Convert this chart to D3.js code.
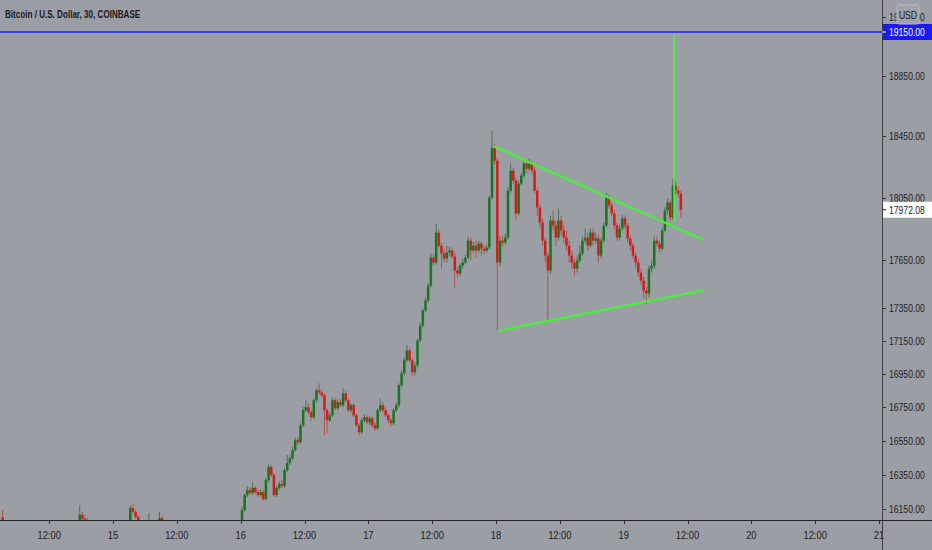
<!DOCTYPE html>
<html>
<head>
<meta charset="utf-8">
<script src="https://cdn.jsdelivr.net/npm/d3@7"></script>
<style>
  html, body { margin: 0; padding: 0; background: #9b9ea5; }
  svg { display: block; }
  text { font-family: "Liberation Sans", Arial, sans-serif; }
</style>
</head>
<body>
<svg id="chart" width="932" height="550"></svg>
<script>
/* DATA: BTC/USD 30 min, Coinbase */
const title = "Bitcoin / U.S. Dollar, 30, COINBASE";

// 30-min slot numbers counted from 2020-11-14 00:00 UTC
const slots = [6, 35, 36, 37, 38, 54, 55, 56, 57, 61, 65, 66, ...d3.range(96, 262)];

const opens = [16103,16064,16116,16093,16070,16064,16156,16133,16104,16058,16070,16098,
  16075,16144,16231,16260,16243,16272,16248,16231,16248,16208,
  16318,16394,16347,16231,16272,16295,16283,16376,16417,16446,
  16493,16552,16540,16640,16730,16748,16718,16688,16790,16849,
  16837,16819,16730,16670,16700,16790,16742,16778,16760,16831,
  16790,16730,16760,16700,16640,16599,16670,16688,16658,16682,
  16640,16622,16730,16760,16730,16700,16670,16652,16730,16760,
  16880,16952,17031,17091,17031,16958,17000,17152,17244,17337,
  17399,17492,17668,17636,17826,17743,17693,17661,17699,17712,
  17674,17586,17567,17617,17636,17668,17775,17712,17743,17712,
  17756,17724,17712,17731,18050,18375,18290,17636,17775,17762,
  17794,18095,18225,18160,17948,18141,18193,18271,18238,18271,
  18225,18095,17986,17890,17775,17680,17586,17903,17871,17794,
  17903,17839,17794,17743,17680,17636,17598,17649,17693,17775,
  17794,17743,17826,17775,17788,17680,17775,17871,18050,17999,
  17948,17871,17794,17852,17916,17871,17788,17743,17680,17636,
  17573,17523,17461,17443,17598,17617,17775,17756,17724,17839,
  17967,18018,17922,18128,18095,18076];

const highs = [16144,16173,16133,16116,16098,16173,16179,16144,16116,16127,16133,16110,
  16162,16243,16283,16277,16306,16283,16260,16266,16260,16330,
  16411,16405,16359,16283,16312,16318,16388,16464,16464,16511,
  16570,16570,16652,16748,16790,16772,16730,16802,16861,16892,
  16855,16831,16742,16718,16808,16802,16796,16796,16861,16849,
  16802,16772,16772,16712,16652,16682,16706,16700,16694,16694,
  16658,16742,16802,16778,16748,16712,16682,16742,16778,16892,
  16970,17049,17122,17103,17043,17019,17164,17263,17349,17418,
  17505,17693,17687,17884,17845,17762,17724,17743,17737,17731,
  17699,17611,17630,17661,17687,17801,17794,17769,17775,17775,
  17769,17743,17750,18063,18486,18401,18309,17801,17807,17820,
  18115,18271,18245,18180,18160,18212,18290,18290,18303,18290,
  18245,18115,18005,17916,17794,17699,17935,17967,17903,17980,
  17935,17871,17839,17775,17712,17661,17674,17743,17801,17852,
  17826,17852,17852,17826,17813,17794,17890,18082,18069,18018,
  17967,17890,17877,17941,17935,17890,17807,17762,17699,17661,
  17598,17548,17486,17617,17649,17801,17801,17775,17858,17986,
  18044,18031,18173,18160,18121,18095];

const lows = [16041,16052,16075,16058,16035,16052,16121,16093,16064,16047,16064,16070,
  16064,16133,16220,16231,16231,16237,16220,16220,16196,16196,
  16306,16335,16220,16220,16260,16272,16272,16365,16405,16434,
  16481,16522,16528,16628,16718,16706,16670,16676,16778,16825,
  16808,16581,16593,16658,16688,16730,16730,16748,16748,16778,
  16718,16718,16688,16628,16581,16587,16658,16646,16640,16628,
  16605,16611,16718,16718,16688,16652,16634,16640,16718,16748,
  16867,16940,17019,17019,16934,16940,16988,17140,17232,17325,
  17387,17480,17617,17624,17731,17598,17636,17636,17674,17661,
  17474,17542,17548,17598,17624,17655,17649,17699,17668,17699,
  17680,17693,17699,17718,18037,18264,17213,17611,17737,17750,
  17782,18082,18141,17903,17935,18128,18180,18212,18225,18206,
  18076,17935,17852,17743,17636,17275,17567,17839,17743,17775,
  17807,17762,17712,17636,17598,17555,17573,17636,17680,17756,
  17712,17731,17743,17756,17636,17661,17762,17858,17980,17929,
  17852,17775,17775,17839,17852,17762,17712,17661,17598,17548,
  17498,17412,17374,17418,17573,17598,17737,17699,17712,17826,
  17941,17903,17903,18069,18050,17922];

const closes = [16058,16116,16093,16070,16047,16156,16133,16104,16075,16081,16098,16081,
  16144,16231,16260,16243,16272,16248,16231,16248,16208,16318,
  16394,16347,16231,16272,16295,16283,16376,16417,16446,16493,
  16552,16540,16640,16730,16748,16718,16688,16790,16849,16837,
  16819,16730,16670,16700,16790,16742,16778,16760,16831,16790,
  16730,16760,16700,16640,16599,16670,16688,16658,16682,16640,
  16622,16730,16760,16730,16700,16670,16652,16730,16760,16880,
  16952,17031,17091,17031,16958,17000,17152,17244,17337,17399,
  17492,17668,17636,17826,17743,17693,17661,17699,17712,17674,
  17586,17567,17617,17636,17668,17775,17712,17743,17712,17756,
  17724,17712,17731,18050,18375,18290,17636,17775,17762,17794,
  18095,18225,18160,17948,18141,18193,18271,18238,18271,18225,
  18095,17986,17890,17775,17680,17586,17903,17871,17794,17903,
  17839,17794,17743,17680,17636,17598,17649,17693,17775,17794,
  17743,17826,17775,17788,17680,17775,17871,18050,17999,17948,
  17871,17794,17852,17916,17871,17788,17743,17680,17636,17573,
  17523,17461,17443,17598,17617,17775,17756,17724,17839,17967,
  18018,17922,18128,18095,18076,17972.08];

// drawings on the chart (time, price)
const upperTrend = [["2020-11-17T23:30Z", 18385], ["2020-11-19T15:00Z", 17780]];
const lowerTrend = [["2020-11-18T00:30Z", 17213], ["2020-11-19T15:00Z", 17461]];
const targetLine = [["2020-11-19T09:30Z", 17890], ["2020-11-19T09:30Z", 19130]];
const priceLine = 19150;
const lastPrice = 17972.08;

const yTicks = [16150, 16350, 16550, 16750, 16950, 17150, 17350, 17650, 18050, 18450, 18850, 19250];
const xTickTimes = ["2020-11-14T12:00Z", "2020-11-15T00:00Z", "2020-11-15T12:00Z", "2020-11-16T00:00Z",
  "2020-11-16T12:00Z", "2020-11-17T00:00Z", "2020-11-17T12:00Z", "2020-11-18T00:00Z", "2020-11-18T12:00Z",
  "2020-11-19T00:00Z", "2020-11-19T12:00Z", "2020-11-20T00:00Z", "2020-11-20T12:00Z", "2020-11-21T00:00Z"];
const xTickLabels = ["12:00", "15", "12:00", "16", "12:00", "17", "12:00", "18", "12:00", "19", "12:00", "20", "12:00", "21"];

/* LAYOUT */
const W = 932, H = 550;
const plotR = 882, plotB = 520;
const bg = "#9b9ea5";
const upColor = "#1a7520", downColor = "#d01f1a";
const textColor = "#202124";

const svg = d3.select("#chart");
const t0 = Date.UTC(2020, 10, 14);
const halfHour = 30 * 60 * 1000;

const x = d3.scaleUtc()
  .domain([new Date("2020-11-15T00:00Z"), new Date("2020-11-21T00:00Z")])
  .range([113, 879]);
const y = d3.scaleLog()
  .domain([16150, 19150])
  .range([509, 32]);

// narrow the glyphs like the chart's condensed UI font
function squeeze(sel, k) {
  sel.each(function () {
    const len = this.getComputedTextLength();
    d3.select(this).attr("textLength", len * k).attr("lengthAdjust", "spacingAndGlyphs");
  });
}

const candles = slots.map((s, i) => ({
  t: new Date(t0 + s * halfHour + halfHour / 2),
  o: opens[i], h: highs[i], l: lows[i], c: closes[i]
}));

svg.append("rect").attr("width", W).attr("height", H).attr("fill", bg);

svg.append("defs").append("clipPath").attr("id", "plotClip")
  .append("rect").attr("width", plotR).attr("height", plotB);

const plot = svg.append("g").attr("clip-path", "url(#plotClip)");

/* CANDLES */
const step = x(new Date(t0 + halfHour)) - x(new Date(t0));
const bodyW = step * 0.95;

const cg = plot.selectAll("g.candle")
  .data(candles)
  .enter()
  .append("g")
  .attr("class", "candle");

cg.append("line")
  .attr("x1", d => x(d.t)).attr("x2", d => x(d.t))
  .attr("y1", d => y(d.h)).attr("y2", d => y(d.l))
  .attr("stroke", d => d.c >= d.o ? "#50724f" : "#b0524d")
  .attr("stroke-width", 1);

cg.append("rect")
  .attr("x", d => x(d.t) - bodyW / 2)
  .attr("width", bodyW)
  .attr("y", d => y(Math.max(d.o, d.c)))
  .attr("height", d => Math.max(1, Math.abs(y(d.o) - y(d.c))))
  .attr("fill", d => d.c >= d.o ? upColor : downColor);

/* DRAWINGS */
const line = d3.line().x(d => x(new Date(d[0]))).y(d => y(d[1]));
[upperTrend, lowerTrend].forEach(seg => {
  plot.append("path").attr("d", line(seg))
    .attr("fill", "none").attr("stroke", "#46ef3a").attr("stroke-width", 2.3);
});
plot.append("path").attr("d", line(targetLine))
  .attr("fill", "none").attr("stroke", "#58e84a").attr("stroke-width", 1.8);

plot.append("line")
  .attr("x1", 0).attr("x2", plotR)
  .attr("y1", y(priceLine)).attr("y2", y(priceLine))
  .attr("stroke", "#1f22f0").attr("stroke-width", 1.5);

/* AXES */
const yAxis = svg.append("g");
yAxis.selectAll("line.tick").data(yTicks).enter().append("line")
  .attr("x1", plotR).attr("x2", plotR + 4)
  .attr("y1", d => Math.round(y(d)) + 0.5).attr("y2", d => Math.round(y(d)) + 0.5)
  .attr("stroke", "#333");
yAxis.selectAll("text").data(yTicks).enter().append("text")
  .attr("x", plotR + 7).attr("y", d => y(d) + 4)
  .attr("font-size", 10.5).attr("fill", textColor)
  .text(d => d3.format(".2f")(d))
  .call(squeeze, 0.82);

const xAxis = svg.append("g");
xAxis.selectAll("line").data(xTickTimes).enter().append("line")
  .attr("x1", d => Math.round(x(new Date(d))) + 0.5).attr("x2", d => Math.round(x(new Date(d))) + 0.5)
  .attr("y1", plotB).attr("y2", plotB + 4)
  .attr("stroke", "#333");
xAxis.selectAll("text").data(xTickTimes).enter().append("text")
  .attr("x", d => x(new Date(d))).attr("y", plotB + 19)
  .attr("text-anchor", "middle")
  .attr("font-size", 11).attr("fill", textColor)
  .text((d, i) => xTickLabels[i])
  .call(squeeze, 0.85);

svg.append("line").attr("x1", plotR + 0.5).attr("x2", plotR + 0.5).attr("y1", 0).attr("y2", H)
  .attr("stroke", "#3c3e44");
svg.append("line").attr("x1", 0).attr("x2", W).attr("y1", plotB + 0.5).attr("y2", plotB + 0.5)
  .attr("stroke", "#25272b");

/* PRICE LABELS */
function priceTag(v, fill, color) {
  const g = svg.append("g");
  g.append("rect").attr("x", plotR + 1).attr("y", y(v) - 8).attr("width", W - plotR - 1).attr("height", 16)
    .attr("fill", fill);
  g.append("line").attr("x1", plotR).attr("x2", plotR + 4).attr("y1", y(v)).attr("y2", y(v))
    .attr("stroke", color);
  g.append("text").attr("x", plotR + 7).attr("y", y(v) + 4)
    .attr("font-size", 10.5).attr("fill", color)
    .text(d3.format(".2f")(v))
    .call(squeeze, 0.82);
}
priceTag(priceLine, "#1a1af2", "#ffffff");
priceTag(lastPrice, "#ffffff", textColor);

// currency badge
const badge = svg.append("g");
badge.append("rect").attr("x", 897).attr("y", 5).attr("width", 22).attr("height", 19).attr("rx", 2)
  .attr("fill", "#9fa2a9").attr("stroke", "#b9bbc0");
badge.append("text").attr("x", 908).attr("y", 18.5).attr("text-anchor", "middle")
  .attr("font-size", 10.5).attr("fill", textColor).text("USD")
  .call(squeeze, 0.82);

/* TITLE */
svg.append("text").attr("x", 5).attr("y", 18)
  .attr("font-size", 10.5).attr("fill", "#1a1a1a").attr("font-weight", "bold")
  .text(title)
  .call(squeeze, 0.77);
</script>
</body>
</html>
